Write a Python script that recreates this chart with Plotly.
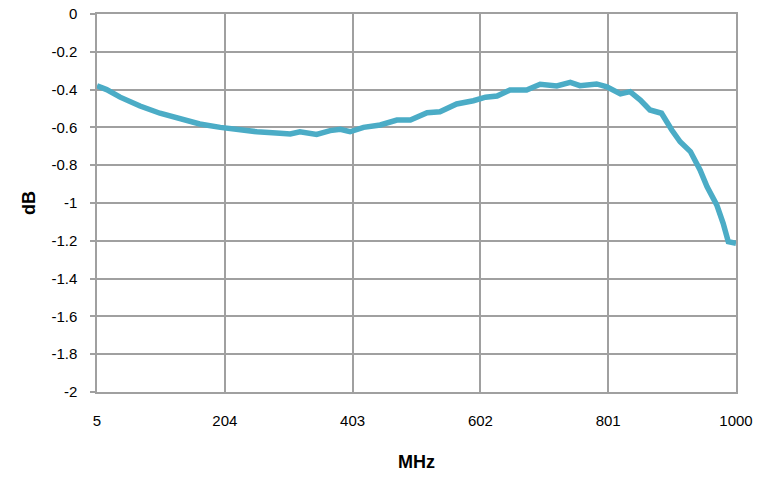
import plotly.graph_objects as go

freq_mhz = [5, 20, 41, 72, 103, 134, 165, 197, 228, 254, 290, 306, 321, 347, 368, 384, 399,
            420, 446, 472, 493, 519, 539, 565, 591, 610, 628, 648, 674, 695, 721, 742, 757,
            783, 799, 820, 835, 851, 866, 884, 900, 913, 929, 944, 955, 970, 980, 988, 1000]
gain_db = [-0.38, -0.40, -0.44, -0.487, -0.525, -0.552, -0.582, -0.60, -0.614, -0.623, -0.631,
           -0.635, -0.623, -0.637, -0.617, -0.61, -0.623, -0.60, -0.587, -0.561, -0.561, -0.522,
           -0.517, -0.476, -0.459, -0.44, -0.434, -0.402, -0.402, -0.372, -0.381, -0.362, -0.379,
           -0.37, -0.385, -0.423, -0.411, -0.455, -0.508, -0.525, -0.614, -0.676, -0.728, -0.825,
           -0.914, -1.01, -1.107, -1.205, -1.213]

x_ticks = [5, 204, 403, 602, 801, 1000]
y_ticks = [0, -0.2, -0.4, -0.6, -0.8, -1, -1.2, -1.4, -1.6, -1.8, -2]

font_family = "Liberation Sans, Arial, sans-serif"
grid_color = "#a0a0a0"

fig = go.Figure()
fig.add_trace(go.Scatter(x=freq_mhz, y=gain_db, mode="lines",
                         line=dict(color="#4bacc6", width=5.5), showlegend=False,
                         hoverinfo="skip"))

fig.update_layout(
    width=769, height=477,
    margin=dict(l=97, r=33, t=14, b=85),
    paper_bgcolor="white", plot_bgcolor="white",
    font=dict(family=font_family, size=15, color="#000"),
    xaxis=dict(range=[5, 1000], tickvals=x_ticks, ticktext=[str(v) for v in x_ticks],
               automargin=False, ticklabelstandoff=14, ticklabeloverflow="allow",
               showgrid=True, gridcolor=grid_color, gridwidth=1.5,
               showline=True, linecolor=grid_color, linewidth=1.5, mirror=True,
               ticks="", zeroline=False,
               title=dict(text="<b>MHz</b>", font=dict(size=18), standoff=28)),
    yaxis=dict(range=[-2, 0], tickvals=y_ticks,
               ticktext=["0" if v == 0 else ("%g" % v) for v in y_ticks],
               automargin=False, ticklabelstandoff=10, ticklabeloverflow="allow",
               showgrid=True, gridcolor=grid_color, gridwidth=1.5,
               showline=True, linecolor=grid_color, linewidth=1.5, mirror=True,
               ticks="outside", ticklen=5, tickcolor=grid_color, tickwidth=1.5,
               zeroline=False,
               title=dict(text="<b>dB</b>", font=dict(size=18), standoff=11)),
)

fig.write_html("out.html", config={"displayModeBar": False},
               post_script="document.body.style.margin='0';")
